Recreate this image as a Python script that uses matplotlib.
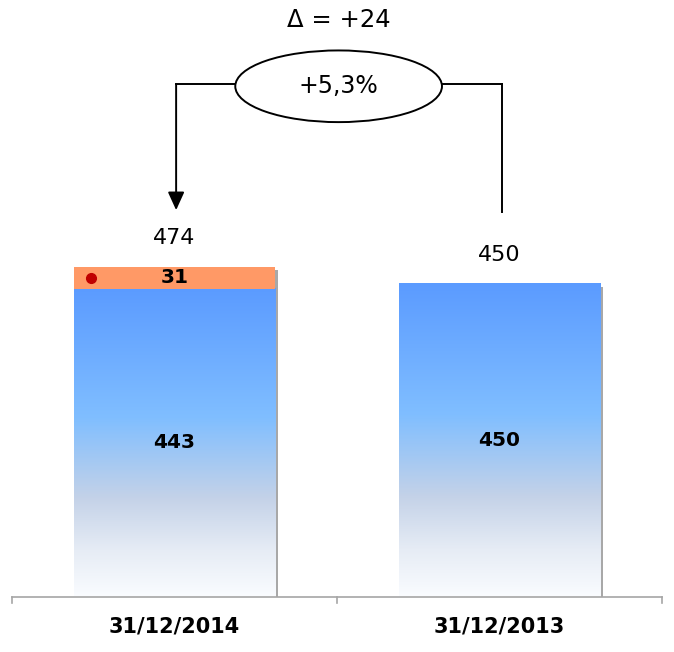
import numpy as np
import matplotlib
matplotlib.use("Agg")
import matplotlib.pyplot as plt
from matplotlib.colors import LinearSegmentedColormap
from matplotlib.patches import Ellipse, Rectangle

# ---- data ----
categories = ["31/12/2014", "31/12/2013"]
base_values = [443, 450]
extra_values = [31, 0]
delta_label = "\u0394 = +24"
pct_label = "+5,3%"

totals = [b + e for b, e in zip(base_values, extra_values)]

W, H, DPI = 674, 652, 100
fig = plt.figure(figsize=(W / DPI, H / DPI), dpi=DPI)
ax = fig.add_axes([12 / W, 55 / H, 650 / W, 597 / H])
ax.set_xlim(-0.5, 1.5)
ax.set_ylim(0, 858)
ax.axis("off")

bar_w = 0.62
cmap = LinearSegmentedColormap.from_list(
    "grad",
    [(0.0, "#FAFCFF"), (0.15, "#E6ECF5"), (0.32, "#C4D2E8"),
     (0.58, "#80BEFF"), (1.0, "#5B9BFF")])
grad = np.linspace(0, 1, 256).reshape(-1, 1)

for i, (b, e) in enumerate(zip(base_values, extra_values)):
    x0, x1 = i - bar_w / 2, i + bar_w / 2
    tot = b + e
    # shadow
    ax.add_patch(Rectangle((x1, 0), 0.009, tot - 4, facecolor="#A8A8A8",
                           edgecolor="none", zorder=1))
    ax.imshow(grad, extent=(x0, x1, 0, b), origin="lower", cmap=cmap,
              aspect="auto", zorder=2)
    ax.text(i, b / 2, str(b), ha="center", va="center", fontsize=14.5,
            fontweight="bold", color="black", zorder=5)
    if e > 0:
        ax.add_patch(Rectangle((x0, b), bar_w, e, facecolor="#FF9966",
                               edgecolor="none", zorder=3))
        ax.text(i, b + e / 2, str(e), ha="center", va="center", fontsize=14.5,
                fontweight="bold", color="black", zorder=5)
        ax.plot([x0 + 0.052], [b + e / 2], "o", color="#C00000",
                markersize=7, zorder=6)
    ax.text(i, tot + 42, str(tot), ha="center", va="center", fontsize=16,
            color="black", zorder=5)

# axis line and ticks
ax.plot([-0.5, 1.5], [0, 0], color="#A6A6A6", lw=1.2, clip_on=False)
for xt in [-0.5, 0.5, 1.5]:
    ax.plot([xt, xt], [0, -9], color="#A6A6A6", lw=1.2, clip_on=False)
for i, c in enumerate(categories):
    ax.text(i, -42, c, ha="center", va="center", fontsize=15,
            fontweight="bold", color="black", clip_on=False)

# bracket annotation
by = 737
ecx, ecy, ew, eh = 0.505, 734, 0.636, 103
ax.plot([0.005, ecx - ew / 2], [by, by], color="black", lw=1.4)
ax.plot([ecx + ew / 2, 1.008], [by, by], color="black", lw=1.4)
ax.plot([1.008, 1.008], [by, 553], color="black", lw=1.4)
ax.annotate("", xy=(0.005, 556), xytext=(0.005, by),
            arrowprops=dict(arrowstyle="-|>,head_length=1.1,head_width=0.5",
                            color="black", lw=1.4,
                            mutation_scale=10, shrinkA=0, shrinkB=0))
ax.add_patch(Ellipse((ecx, ecy), ew, eh, facecolor="white",
                     edgecolor="black", lw=1.4, zorder=4))
ax.text(ecx, ecy, pct_label, ha="center", va="center", fontsize=17, zorder=5)
ax.text(ecx, 829, delta_label, ha="center", va="center", fontsize=17.5)

fig.savefig("out.png", dpi=DPI)
